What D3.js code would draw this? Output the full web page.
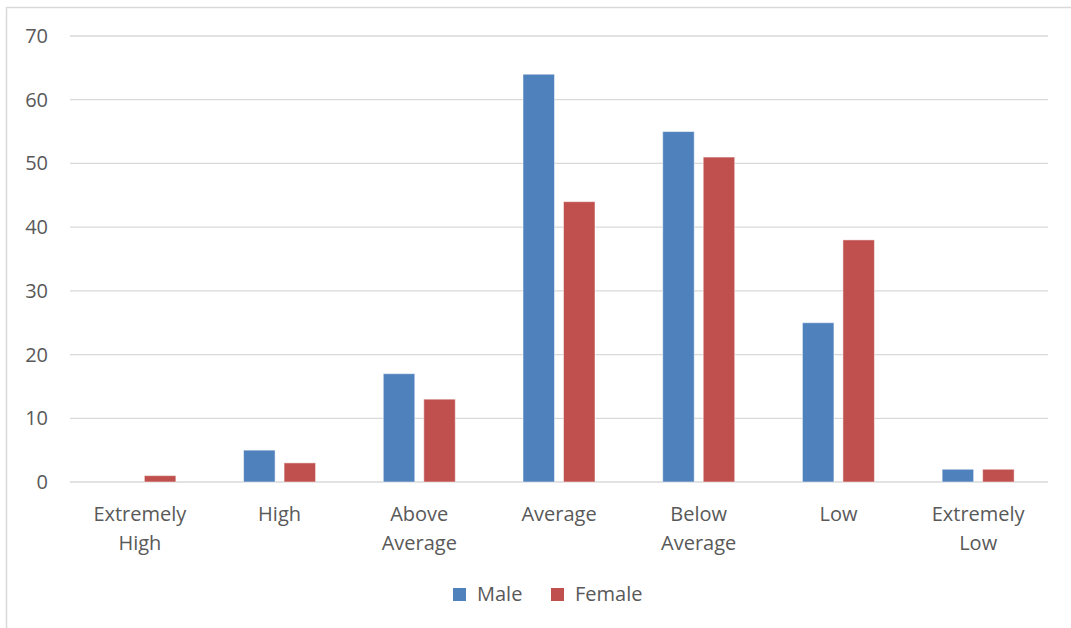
<!DOCTYPE html>
<html>
<head>
<meta charset="utf-8">
<script src="https://cdn.jsdelivr.net/npm/d3@7"></script>
<style>
  body { margin: 0; background: #fff; }
  text { font-family: "Open Sans", sans-serif; fill: #595959; }
</style>
</head>
<body>
<script>
const categories = ["Extremely High", "High", "Above Average", "Average", "Below Average", "Low", "Extremely Low"];
const seriesNames = ["Male", "Female"];
const male = [0, 5, 17, 64, 55, 25, 2];
const female = [1, 3, 13, 44, 51, 38, 2];
const yTicks = [0, 10, 20, 30, 40, 50, 60, 70];
const colors = ["#4F81BD", "#C0504D"];

const width = 1071, height = 628;
const plotLeft = 70, plotRight = 1048, plotTop = 36, plotBottom = 482;
const fontSize = "20px";

const svg = d3.select("body").append("svg")
    .attr("width", width)
    .attr("height", height);

// chart border (cut off on right / bottom like the reference)
svg.append("rect")
    .attr("x", 6.5).attr("y", 7.5)
    .attr("width", 1080).attr("height", 640)
    .attr("fill", "none")
    .attr("stroke", "#d9d9d9")
    .attr("stroke-width", 1.5);

const x = d3.scaleBand().domain(categories).range([plotLeft, plotRight]);
const x1 = d3.scaleBand().domain(seriesNames).range([0, x.bandwidth()]).paddingInner(0.222).paddingOuter(0.836);
const y = d3.scaleLinear().domain([0, 70]).range([plotBottom, plotTop]);

// gridlines
svg.append("g").selectAll("line")
    .data(yTicks)
    .join("line")
    .attr("x1", plotLeft).attr("x2", plotRight)
    .attr("y1", d => y(d)).attr("y2", d => y(d))
    .attr("stroke", "#d9d9d9")
    .attr("stroke-width", 1.3);

// y labels
svg.append("g").selectAll("text")
    .data(yTicks)
    .join("text")
    .attr("x", 48)
    .attr("y", d => y(d))
    .attr("dy", "0.35em")
    .attr("text-anchor", "end")
    .style("font-size", fontSize)
    .text(d => d);

// bars
const series = [male, female];
series.forEach((vals, s) => {
    svg.append("g").selectAll("rect")
        .data(vals)
        .join("rect")
        .attr("x", (d, i) => x(categories[i]) + x1(seriesNames[s]))
        .attr("y", d => y(d))
        .attr("width", x1.bandwidth())
        .attr("height", d => y(0) - y(d))
        .attr("fill", colors[s])
        .attr("stroke", d => d > 0 ? "#fff" : "none")
        .attr("stroke-opacity", 0.5)
        .attr("stroke-width", 1);
});

// category labels
const catLabels = svg.append("g").selectAll("text")
    .data(categories)
    .join("text")
    .attr("x", d => x(d) + x.bandwidth() / 2)
    .attr("y", 521)
    .attr("text-anchor", "middle")
    .style("font-size", fontSize);

catLabels.each(function(d) {
    const parts = d.split(" ");
    const t = d3.select(this);
    parts.forEach((p, i) => {
        t.append("tspan")
            .attr("x", x(d) + x.bandwidth() / 2)
            .attr("dy", i === 0 ? 0 : 28.5)
            .text(p);
    });
});

// legend
const legendItems = [
    { name: "Male", color: colors[0], x: 453 },
    { name: "Female", color: colors[1], x: 551 }
];
const legend = svg.append("g");
legend.selectAll("rect")
    .data(legendItems)
    .join("rect")
    .attr("x", d => d.x)
    .attr("y", 588)
    .attr("width", 13)
    .attr("height", 13)
    .attr("fill", d => d.color);
legend.selectAll("text")
    .data(legendItems)
    .join("text")
    .attr("x", d => d.x + 24)
    .attr("y", 594)
    .attr("dy", "0.35em")
    .style("font-size", fontSize)
    .text(d => d.name);
</script>
</body>
</html>
